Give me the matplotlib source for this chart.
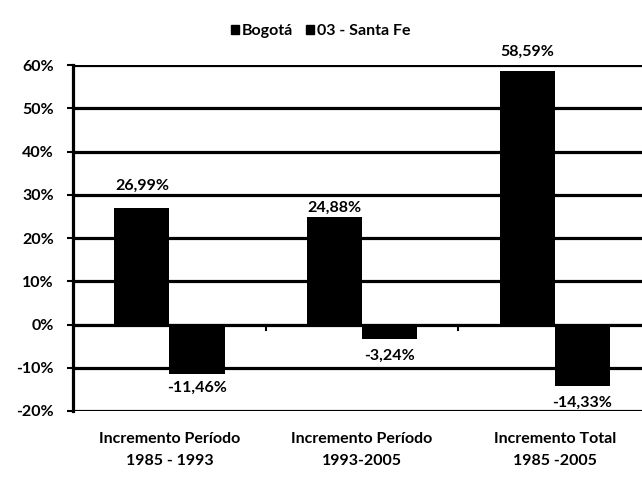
import numpy as np
import matplotlib.pyplot as plt
from matplotlib.patches import Patch

categories = ['Incremento Período\n1985 - 1993', 'Incremento Período\n1993-2005',
              'Incremento Total\n1985 -2005']
bogota = [26.99, 24.88, 58.59]
santa_fe = [-11.46, -3.24, -14.33]
labels_bogota = ['26,99%', '24,88%', '58,59%']
labels_santa_fe = ['-11,46%', '-3,24%', '-14,33%']
yticks = [-20, -10, 0, 10, 20, 30, 40, 50, 60]

# label offsets (in % units) as placed in the original
off_bogota = [5.1, 2.1, 4.4]
off_santa_fe = [-3.1, -3.9, -3.7]

plt.rcParams['font.family'] = ['Lato', 'DejaVu Sans']
fs = 11.5

fig = plt.figure(figsize=(6.42, 4.79), dpi=100)
ax = fig.add_axes([0.114, 0.142, 0.9, 0.722])

x = np.arange(len(categories))
w = 0.286
ax.bar(x - w / 2, bogota, w, color='black', zorder=3)
ax.bar(x + w / 2, santa_fe, w, color='black', zorder=3)

for xi, v, o, t in zip(x, bogota, off_bogota, labels_bogota):
    ax.text(xi - w / 2, v + o, t, ha='center', va='center', fontsize=fs, fontweight='bold')
for xi, v, o, t in zip(x, santa_fe, off_santa_fe, labels_santa_fe):
    ax.text(xi + w / 2, v + o, t, ha='center', va='center', fontsize=fs, fontweight='bold')

ax.set_ylim(-20, 60)
ax.set_xlim(-0.5, 2.5)
ax.set_yticks(yticks)
ax.set_yticklabels(['%d%%' % t for t in yticks], fontsize=fs, fontweight='bold')
ax.yaxis.grid(True, color='black', linewidth=2.3, zorder=1)
ax.tick_params(axis='y', length=4, width=1.5, pad=10)

# category boundary ticks on the 0% line
for b in [0.5, 1.5]:
    ax.plot([b, b], [0, -1.2], color='black', linewidth=1.5, zorder=2)

ax.set_xticks(x)
ax.set_xticklabels(categories, fontsize=fs, fontweight='bold', linespacing=1.75)
ax.tick_params(axis='x', length=0, pad=15)

for s in ['top', 'right', 'bottom']:
    ax.spines[s].set_visible(False)
ax.spines['left'].set_linewidth(2.3)
ax.axhline(0, color='black', linewidth=1.5, zorder=2)

handles = [Patch(color='black', label='Bogotá'), Patch(color='black', label='03 - Santa Fe')]
fig.legend(handles=handles, loc='upper center', bbox_to_anchor=(0.5, 0.98), ncol=2,
           frameon=False, handlelength=0.5, handleheight=0.5, handletextpad=0.2,
           columnspacing=0.8, prop={'size': fs, 'weight': 'bold'})

fig.savefig('out.png', dpi=100)
